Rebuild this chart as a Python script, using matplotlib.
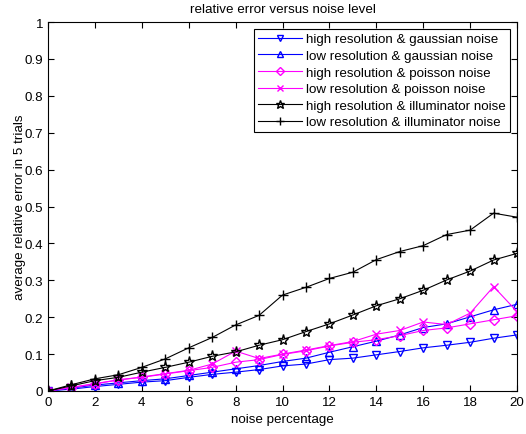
import matplotlib.pyplot as plt
import numpy as np

plt.rcParams['font.family'] = ['Liberation Sans', 'DejaVu Sans']

noise = np.arange(0, 21)

# average relative error
high_gauss = [0, 0.005, 0.012, 0.018, 0.024, 0.028, 0.037, 0.045, 0.051, 0.058, 0.068,
              0.073, 0.085, 0.089, 0.098, 0.107, 0.117, 0.124, 0.132, 0.143, 0.152]
low_gauss = [0, 0.008, 0.016, 0.022, 0.028, 0.033, 0.042, 0.051, 0.060, 0.069, 0.080,
             0.089, 0.105, 0.120, 0.135, 0.152, 0.172, 0.182, 0.201, 0.220, 0.235]
high_poisson = [0, 0.009, 0.019, 0.030, 0.037, 0.046, 0.055, 0.064, 0.078, 0.085, 0.099,
                0.109, 0.122, 0.132, 0.139, 0.150, 0.164, 0.171, 0.182, 0.193, 0.204]
low_poisson = [0, 0.010, 0.020, 0.030, 0.038, 0.047, 0.056, 0.073, 0.108, 0.088, 0.100,
               0.111, 0.123, 0.134, 0.154, 0.164, 0.187, 0.180, 0.211, 0.283, 0.215]
high_illum = [0, 0.014, 0.028, 0.037, 0.051, 0.064, 0.078, 0.094, 0.106, 0.124, 0.139,
              0.161, 0.182, 0.206, 0.231, 0.250, 0.273, 0.301, 0.325, 0.355, 0.373]
low_illum = [0, 0.017, 0.033, 0.044, 0.064, 0.087, 0.117, 0.145, 0.179, 0.205, 0.260,
             0.281, 0.305, 0.322, 0.356, 0.378, 0.394, 0.424, 0.436, 0.482, 0.471]

labels = ['high resolution & gaussian noise', 'low resolution & gaussian noise',
          'high resolution & poisson noise', 'low resolution & poisson noise',
          'high resolution & illuminator noise', 'low resolution & illuminator noise']

fs = 9.6

fig = plt.figure(figsize=(5.26, 4.35), dpi=100)
ax = fig.add_axes([0.0913, 0.0989, 0.8917, 0.8481])

lw = 0.8
ax.plot(noise, high_gauss, color='b', marker='v', ms=6, mfc='none', lw=lw, label=labels[0])
ax.plot(noise, low_gauss, color='b', marker='^', ms=6, mfc='none', lw=lw, label=labels[1])
ax.plot(noise, high_poisson, color='magenta', marker='D', ms=5, mfc='none', lw=lw, label=labels[2])
ax.plot(noise, low_poisson, color='magenta', marker='x', ms=6, lw=lw, label=labels[3])
ax.plot(noise, high_illum, color='k', marker='*', ms=8, mfc='none', lw=lw, label=labels[4])
ax.plot(noise, low_illum, color='k', marker='+', ms=7, lw=lw, label=labels[5])

ax.set_xlim(0, 20)
ax.set_ylim(0, 1)
ax.set_xticks(np.arange(0, 21, 2))
ax.set_yticks(np.arange(0, 1.01, 0.1))
ax.set_yticklabels(['0', '0.1', '0.2', '0.3', '0.4', '0.5', '0.6', '0.7', '0.8', '0.9', '1'])
ax.tick_params(direction='in', top=True, right=True, labelsize=fs, length=4, pad=3.5)

ax.set_xlabel('noise percentage', fontsize=fs, labelpad=4)
ax.set_ylabel('average relative error in 5 trials', fontsize=fs, labelpad=-1)
ax.set_title('relative error versus noise level', fontsize=fs, pad=7)

leg = ax.legend(loc='upper right', bbox_to_anchor=(0.985, 0.981), fontsize=fs,
                fancybox=False, edgecolor='k', framealpha=1, borderpad=0.3,
                labelspacing=0.32, handlelength=3.3, handletextpad=0.3, borderaxespad=0,
                markerscale=0.8)
leg.get_frame().set_linewidth(0.8)

fig.savefig('out.png', dpi=100)
